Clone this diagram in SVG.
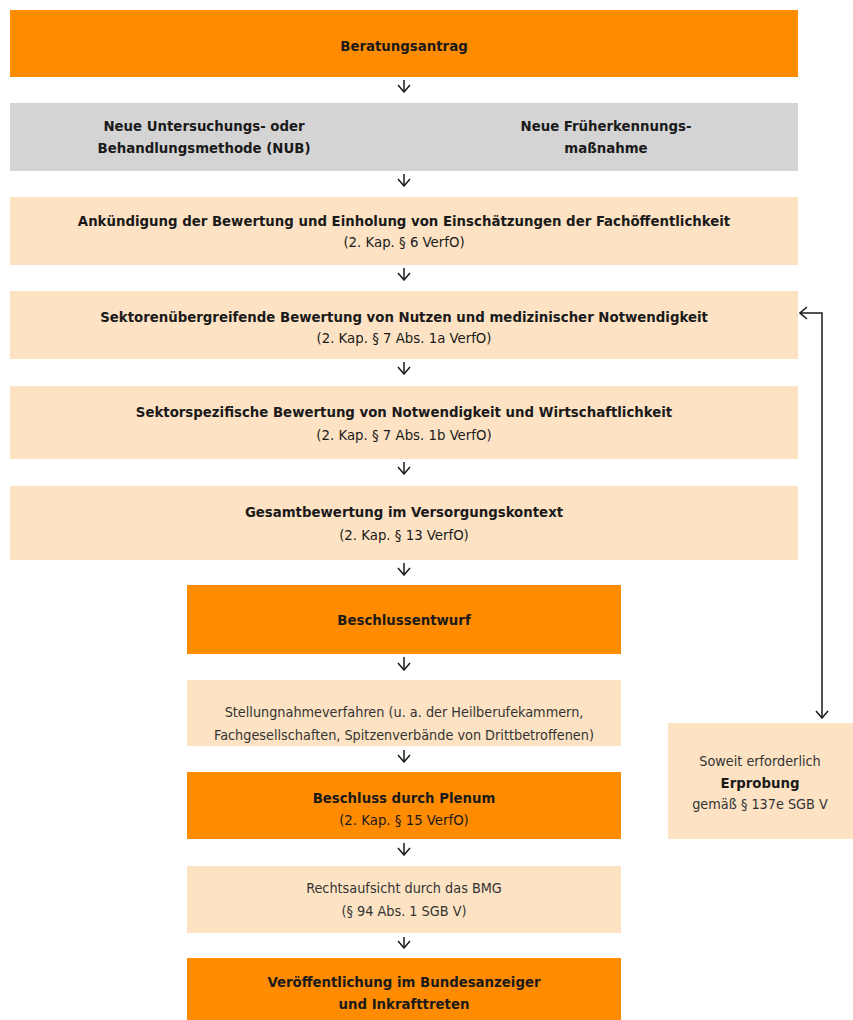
<svg xmlns="http://www.w3.org/2000/svg" width="853" height="1020" viewBox="0 0 853 1020">
<defs>
<marker id="ah" viewBox="0 0 14 14" refX="13" refY="7" markerWidth="14" markerHeight="14" markerUnits="userSpaceOnUse" orient="auto-start-reverse">
<path d="M6,1 L13,7 L6,13" fill="none" stroke="#1a1a1a" stroke-width="1.5"/>
</marker>
<style>
.or{fill:#FF8C00}
.pe{fill:#FDE3C4}
.gr{fill:#D4D4D4}
text{font-family:"Liberation Sans Narrow","DejaVu Sans Condensed","Liberation Sans",sans-serif;font-size:14.8px;fill:#1a1a1a;text-anchor:middle}
.b{font-weight:bold}
.r{fill:#333;font-size:14.3px}
.c{stroke:#1a1a1a;stroke-width:1.5;fill:none;marker-end:url(#ah)}
</style>
</defs>
<rect width="853" height="1020" fill="#fff"/>
<g id="n1"><rect class="or" x="10" y="10" width="788" height="67"/><text class="b" x="404" y="51">Beratungsantrag</text></g>
<g id="n2"><rect class="gr" x="10" y="103" width="788" height="68"/>
<text class="b" x="204" y="131">Neue Untersuchungs- oder</text><text class="b" x="204" y="153">Behandlungsmethode (NUB)</text>
<text class="b" x="606" y="131">Neue Früherkennungs-</text><text class="b" x="606" y="153">maßnahme</text></g>
<g id="n3"><rect class="pe" x="10" y="197" width="788" height="68"/>
<text class="b" x="404" y="226">Ankündigung der Bewertung und Einholung von Einschätzungen der Fachöffentlichkeit</text>
<text x="404" y="247">(2. Kap. § 6 VerfO)</text></g>
<g id="n4"><rect class="pe" x="10" y="291" width="788" height="68"/>
<text class="b" x="404" y="322">Sektorenübergreifende Bewertung von Nutzen und medizinischer Notwendigkeit</text>
<text x="404" y="343">(2. Kap. § 7 Abs. 1a VerfO)</text></g>
<g id="n5"><rect class="pe" x="10" y="386" width="788" height="73"/>
<text class="b" x="404" y="417">Sektorspezifische Bewertung von Notwendigkeit und Wirtschaftlichkeit</text>
<text x="404" y="440">(2. Kap. § 7 Abs. 1b VerfO)</text></g>
<g id="n6"><rect class="pe" x="10" y="486" width="788" height="74"/>
<text class="b" x="404" y="517">Gesamtbewertung im Versorgungskontext</text>
<text x="404" y="540">(2. Kap. § 13 VerfO)</text></g>
<g id="n7"><rect class="or" x="187" y="585" width="434" height="69"/><text class="b" x="404" y="625">Beschlussentwurf</text></g>
<g id="n8"><rect class="pe" x="187" y="680" width="434" height="66"/>
<text class="r" x="404" y="717">Stellungnahmeverfahren (u. a. der Heilberufekammern,</text>
<text class="r" x="404" y="740">Fachgesellschaften, Spitzenverbände von Drittbetroffenen)</text></g>
<g id="n9"><rect class="or" x="187" y="772" width="434" height="67"/>
<text class="b" x="404" y="803">Beschluss durch Plenum</text><text x="404" y="825">(2. Kap. § 15 VerfO)</text></g>
<g id="n10"><rect class="pe" x="187" y="866" width="434" height="67"/>
<text class="r" x="404" y="893">Rechtsaufsicht durch das BMG</text><text class="r" x="404" y="916">(§ 94 Abs. 1 SGB V)</text></g>
<g id="n11"><rect class="or" x="187" y="958" width="434" height="70"/>
<text class="b" x="404" y="987">Veröffentlichung im Bundesanzeiger</text><text class="b" x="404" y="1009">und Inkrafttreten</text></g>
<g id="n12"><rect class="pe" x="668" y="723" width="185" height="116"/>
<text class="r" x="760" y="766">Soweit erforderlich</text><text class="b" x="760" y="788">Erprobung</text><text class="r" x="760" y="809">gemäß § 137e SGB V</text></g>
<g id="connectors">
<path class="c" d="M404,80 V92"/>
<path class="c" d="M404,174 V186"/>
<path class="c" d="M404,268 V280"/>
<path class="c" d="M404,362 V374"/>
<path class="c" d="M404,462 V474"/>
<path class="c" d="M404,563 V575"/>
<path class="c" d="M404,657 V670"/>
<path class="c" d="M404,750 V762"/>
<path class="c" d="M404,843 V855"/>
<path class="c" d="M404,937 V948"/>
<path class="c" d="M800,313 H822 V718" style="marker-start:url(#ah)"/>
</g>
</svg>
